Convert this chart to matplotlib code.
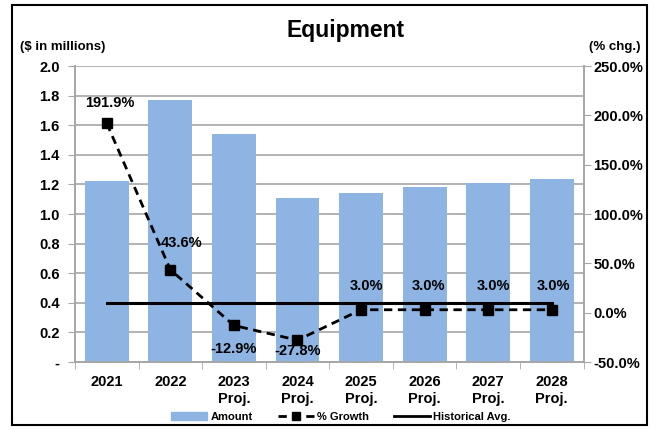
import matplotlib
matplotlib.use("Agg")
import matplotlib.pyplot as plt
from matplotlib.lines import Line2D
from matplotlib.patches import Patch, Rectangle

plt.rcParams['font.family'] = ['Liberation Sans', 'DejaVu Sans']
plt.rcParams['font.weight'] = 'bold'

years = ["2021", "2022", "2023\nProj.", "2024\nProj.", "2025\nProj.", "2026\nProj.", "2027\nProj.", "2028\nProj."]
amount = [1.22, 1.77, 1.54, 1.11, 1.14, 1.18, 1.21, 1.24]
growth = [191.9, 43.6, -12.9, -27.8, 3.0, 3.0, 3.0, 3.0]
growth_labels = ["191.9%", "43.6%", "-12.9%", "-27.8%", "3.0%", "3.0%", "3.0%", "3.0%"]
hist_avg = [9.8] * 8

fig = plt.figure(figsize=(6.56, 4.30), dpi=100)
ax = fig.add_axes([0.1143, 0.158, 0.7752, 0.6885])
ax2 = ax.twinx()

x = list(range(len(years)))
ax.bar(x, amount, width=0.69, color='#8DB4E2', zorder=2)
ax.set_ylim(0, 2.0)
ax.set_xlim(-0.5, len(years) - 0.5)
ax.set_yticks([i * 0.2 for i in range(11)])
ax.set_yticklabels(["-"] + ["%.1f" % (i * 0.2) for i in range(1, 11)], fontsize=10.5, fontweight='bold')
ax.yaxis.grid(True, color='#A6A6A6', linewidth=1.2, zorder=0)
ax.set_axisbelow(True)
ax.set_xticks(x)
ax.set_xticklabels(years, fontsize=10.5, fontweight='bold', linespacing=1.35)
ax.set_xticks([i + 0.5 for i in range(-1, len(years))], minor=True)
ax.tick_params(axis='x', which='major', length=0, pad=9)
ax.tick_params(axis='x', which='minor', length=5, color='#A6A6A6')
ax.tick_params(axis='y', length=5, color='#A6A6A6', pad=6)

ax2.plot(x, hist_avg, color='black', linewidth=2.2, zorder=3)
ax2.plot(x, growth, color='black', linestyle=(0, (3, 2)), linewidth=2,
         marker='s', markersize=6.5, zorder=4)
ax2.set_ylim(-50, 250)
ax2.set_yticks([-50, 0, 50, 100, 150, 200, 250])
ax2.set_yticklabels(["%.1f%%" % v for v in [-50, 0, 50, 100, 150, 200, 250]], fontsize=10.5, fontweight='bold')
ax2.tick_params(axis='y', length=5, color='#A6A6A6', pad=2)

offsets = [(2, 15), (8, 19), (0, -17), (0, -8), (4, 17), (3, 17), (4, 17), (1, 17)]
for xi, g, lab, off in zip(x, growth, growth_labels, offsets):
    ax2.annotate(lab, (xi, g), xytext=off, textcoords='offset points',
                 ha='center', va='center', fontsize=10.5, fontweight='bold')

for a in (ax, ax2):
    a.spines['top'].set_visible(False)
    for s in ('left', 'right', 'bottom'):
        a.spines[s].set_color('#A6A6A6')
        a.spines[s].set_linewidth(1.2)

fig.text(0.527, 0.93, "Equipment", ha='center', va='center', fontsize=16.5, fontweight='bold')
fig.text(0.03, 0.89, "($ in millions)", ha='left', va='center', fontsize=9.5, fontweight='bold')
fig.text(0.977, 0.89, "(% chg.)", ha='right', va='center', fontsize=9.5, fontweight='bold')

handles = [Patch(color='#8DB4E2'),
           Line2D([], [], color='black', linestyle=(0, (3, 2)), linewidth=2, marker='s', markersize=6),
           Line2D([], [], color='black', linewidth=2)]
fig.legend(handles, ["Amount", "% Growth", "Historical Avg."], loc='center',
           bbox_to_anchor=(0.52, 0.03), ncol=3, frameon=False,
           prop={'size': 8, 'weight': 'bold'}, handlelength=3.2, columnspacing=2.3,
           handletextpad=0.3)

fig.patches.append(Rectangle((0.018, 0.012), 0.968, 0.976, transform=fig.transFigure,
                             fill=False, edgecolor='black', linewidth=1.5))

fig.savefig("out.png", dpi=100)
